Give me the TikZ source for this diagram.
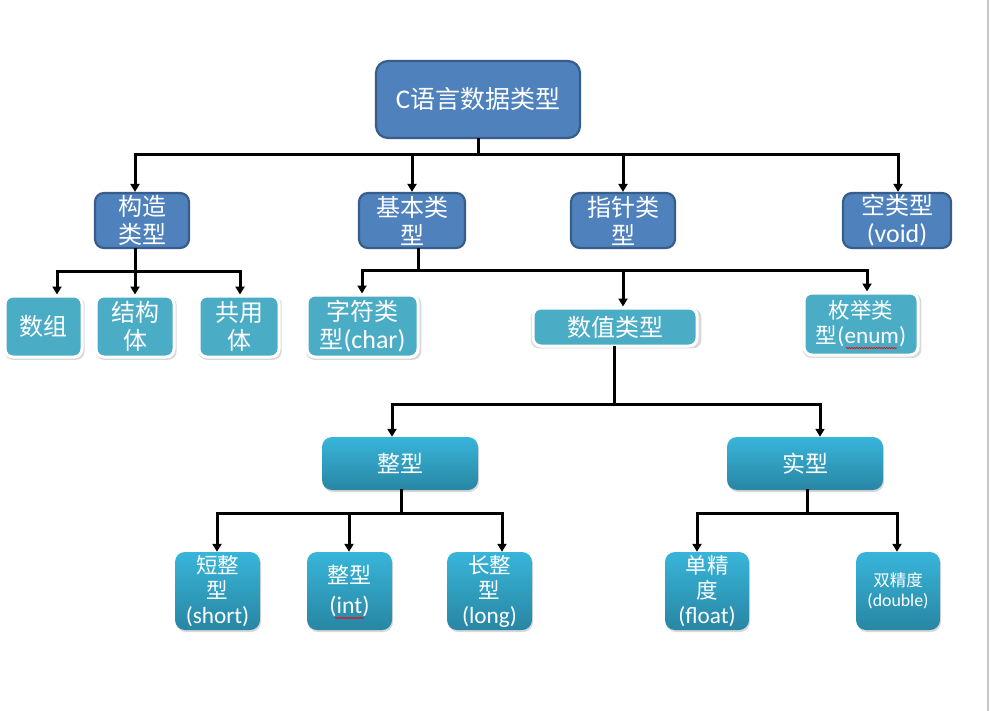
\documentclass[tikz,border=0pt]{standalone}
\usepackage{fontspec}
\setmainfont[Scale=1.08]{Carlito}
\newfontfamily\cjk{Noto Sans CJK SC}
\usetikzlibrary{arrows.meta,shadows,decorations.pathmorphing}
\definecolor{dkblue}{HTML}{4F81BD}
\definecolor{dkedge}{HTML}{385D8A}
\definecolor{ltblue}{HTML}{4BACC6}
\definecolor{gtop}{HTML}{38B5DA}
\definecolor{gbot}{HTML}{2886A3}
\newcommand{\zh}[1]{{\cjk #1}}
\begin{document}
\begin{tikzpicture}[x=1pt,y=-1pt,
  ln/.style={line width=3pt, black, line cap=rect},
  arr/.style={line width=3pt, black, -{Triangle[length=8pt,width=9pt]}},
  rootbox/.style={draw=dkedge, line width=2.2pt, fill=dkblue, rounded corners=12pt, text=white, align=center, inner sep=0pt, font=\fontsize{25}{28}\selectfont},
  midbox/.style={draw=dkedge, line width=2.2pt, fill=dkblue, rounded corners=9pt, text=white, align=center, inner sep=0pt, font=\fontsize{24}{28}\selectfont},
  leafbox/.style={draw=white, line width=3pt, fill=ltblue, rounded corners=8pt, text=white, align=center, inner sep=0pt, font=\fontsize{24}{28}\selectfont, drop shadow={shadow xshift=1pt, shadow yshift=-1.5pt, opacity=0.3, shadow scale=1.04}},
  gradbox/.style={draw=none, top color=gtop, bottom color=gbot, rounded corners=10pt, text=white, align=center, inner sep=0pt, font=\fontsize{21.5}{25}\selectfont, drop shadow={shadow xshift=1pt, shadow yshift=-2pt, opacity=0.3}},
  squig/.style={red, line width=0.6pt, decorate, decoration={snake, amplitude=0.7pt, segment length=2.5pt}}
]
\useasboundingbox[fill=white] (0,0) rectangle (992,711);
\draw[black!22, line width=1.2pt] (988,0) -- (988,711);

% level 1
\node[rootbox, minimum width=204, minimum height=77] (root) at (478,99.5) {C\zh{语言数据类型}};

% level 2
\node[midbox, minimum width=94, minimum height=55] (gouzao) at (142,220.5) {\zh{构造}\\\zh{类型}};
\node[midbox, minimum width=106, minimum height=55] (jiben) at (412,220.5) {\zh{基本类}\\\zh{型}};
\node[midbox, minimum width=104, minimum height=55] (zhizhen) at (623,220.5) {\zh{指针类}\\\zh{型}};
\node[midbox, minimum width=108, minimum height=55] (kong) at (897,220.5) {\zh{空类型}\\(void)};

% level 3
\node[leafbox, minimum width=77, minimum height=61] (shuzu) at (43.5,326.5) {\zh{数组}};
\node[leafbox, minimum width=78, minimum height=61] (jiegou) at (135,326.5) {\zh{结构}\\\zh{体}};
\node[leafbox, minimum width=80, minimum height=61] (gongyong) at (239,326.5) {\zh{共用}\\\zh{体}};
\node[leafbox, minimum width=111, minimum height=62] (zifu) at (362.5,326) {\zh{字符类}\\\zh{型}(char)};
\node[leafbox, minimum width=164, minimum height=38] (shuzhi) at (615,327) {\zh{数值类型}};
\node[leafbox, minimum width=114, minimum height=62, font=\fontsize{21.5}{25}\selectfont] (meiju) at (861,324) {\zh{枚举类}\\\zh{型}(enum)};

% level 4
\node[gradbox, minimum width=156, minimum height=53, font=\fontsize{23}{26}\selectfont] (zheng) at (400,463.5) {\zh{整型}};
\node[gradbox, minimum width=156, minimum height=53, font=\fontsize{23}{26}\selectfont] (shi) at (805,463.5) {\zh{实型}};

% level 5
\node[gradbox, minimum width=85, minimum height=78] (short) at (217.5,591) {\zh{短整}\\\zh{型}\\(short)};
\node[gradbox, minimum width=85, minimum height=78, font=\fontsize{22}{30}\selectfont] (int) at (349.5,591) {\zh{整型}\\(int)};
\node[gradbox, minimum width=85, minimum height=78] (long) at (489.5,591) {\zh{长整}\\\zh{型}\\(long)};
\node[gradbox, minimum width=84, minimum height=78] (float) at (707,591) {\zh{单精}\\\zh{度}\\(float)};
\node[gradbox, minimum width=84, minimum height=78, font=\fontsize{16.5}{20}\selectfont] (double) at (898,591) {\zh{双精度}\\(double)};

% connectors: root -> level 2
\coordinate (b1) at (478,155);
\coordinate (b1l) at (135,155);
\coordinate (b1r) at (898,155);
\draw[ln] (root.south) -- (b1);
\draw[ln] (b1l) -- (b1r);
\draw[arr] (b1l) -- (b1l |- gouzao.north);
\draw[arr] (jiben.north |- b1) -- (jiben.north);
\draw[arr] (zhizhen.north |- b1) -- (zhizhen.north);
\draw[arr] (b1r) -- (b1r |- kong.north);

% gouzao -> level 3
\coordinate (b2) at (135,271);
\coordinate (b2l) at (57,271);
\coordinate (b2r) at (240,271);
\draw[ln] (b2 |- gouzao.south) -- (b2);
\draw[ln] (b2l) -- (b2r);
\draw[arr] (b2l) -- (b2l |- shuzu.north);
\draw[arr] (b2) -- (b2 |- jiegou.north);
\draw[arr] (b2r) -- (b2r |- gongyong.north);

% jiben -> level 3
\coordinate (b3) at (418,270);
\coordinate (b3l) at (362,270);
\coordinate (b3m) at (623,270);
\coordinate (b3r) at (867,270);
\draw[ln] (b3 |- jiben.south) -- (b3);
\draw[ln] (b3l) -- (b3r);
\draw[arr] (b3l) -- (b3l |- zifu.north);
\draw[arr] (b3m) -- (b3m |- shuzhi.north);
\draw[arr] (b3r) -- (b3r |- meiju.north);

% shuzhi -> level 4
\coordinate (b4) at (614,404);
\coordinate (b4l) at (392,404);
\coordinate (b4r) at (820,404);
\draw[ln] (b4 |- shuzhi.south) -- (b4);
\draw[ln] (b4l) -- (b4r);
\draw[arr] (b4l) -- (b4l |- zheng.north);
\draw[arr] (b4r) -- (b4r |- shi.north);

% zheng -> level 5
\coordinate (b5) at (401,513);
\coordinate (b5l) at (217,513);
\coordinate (b5m) at (349,513);
\coordinate (b5r) at (502,513);
\draw[ln] (b5 |- zheng.south) -- (b5);
\draw[ln] (b5l) -- (b5r);
\draw[arr] (b5l) -- (b5l |- short.north);
\draw[arr] (b5m) -- (b5m |- int.north);
\draw[arr] (b5r) -- (b5r |- long.north);

% shi -> level 5
\coordinate (b6) at (807,513);
\coordinate (b6l) at (697,513);
\coordinate (b6r) at (897,513);
\draw[ln] (b6 |- shi.south) -- (b6);
\draw[ln] (b6l) -- (b6r);
\draw[arr] (b6l) -- (b6l |- float.north);
\draw[arr] (b6r) -- (b6r |- double.north);

% spell-check underlines
\draw[squig] (846,348) -- (897,348);
\draw[squig] (335,618) -- (364,618);
\end{tikzpicture}
\end{document}
